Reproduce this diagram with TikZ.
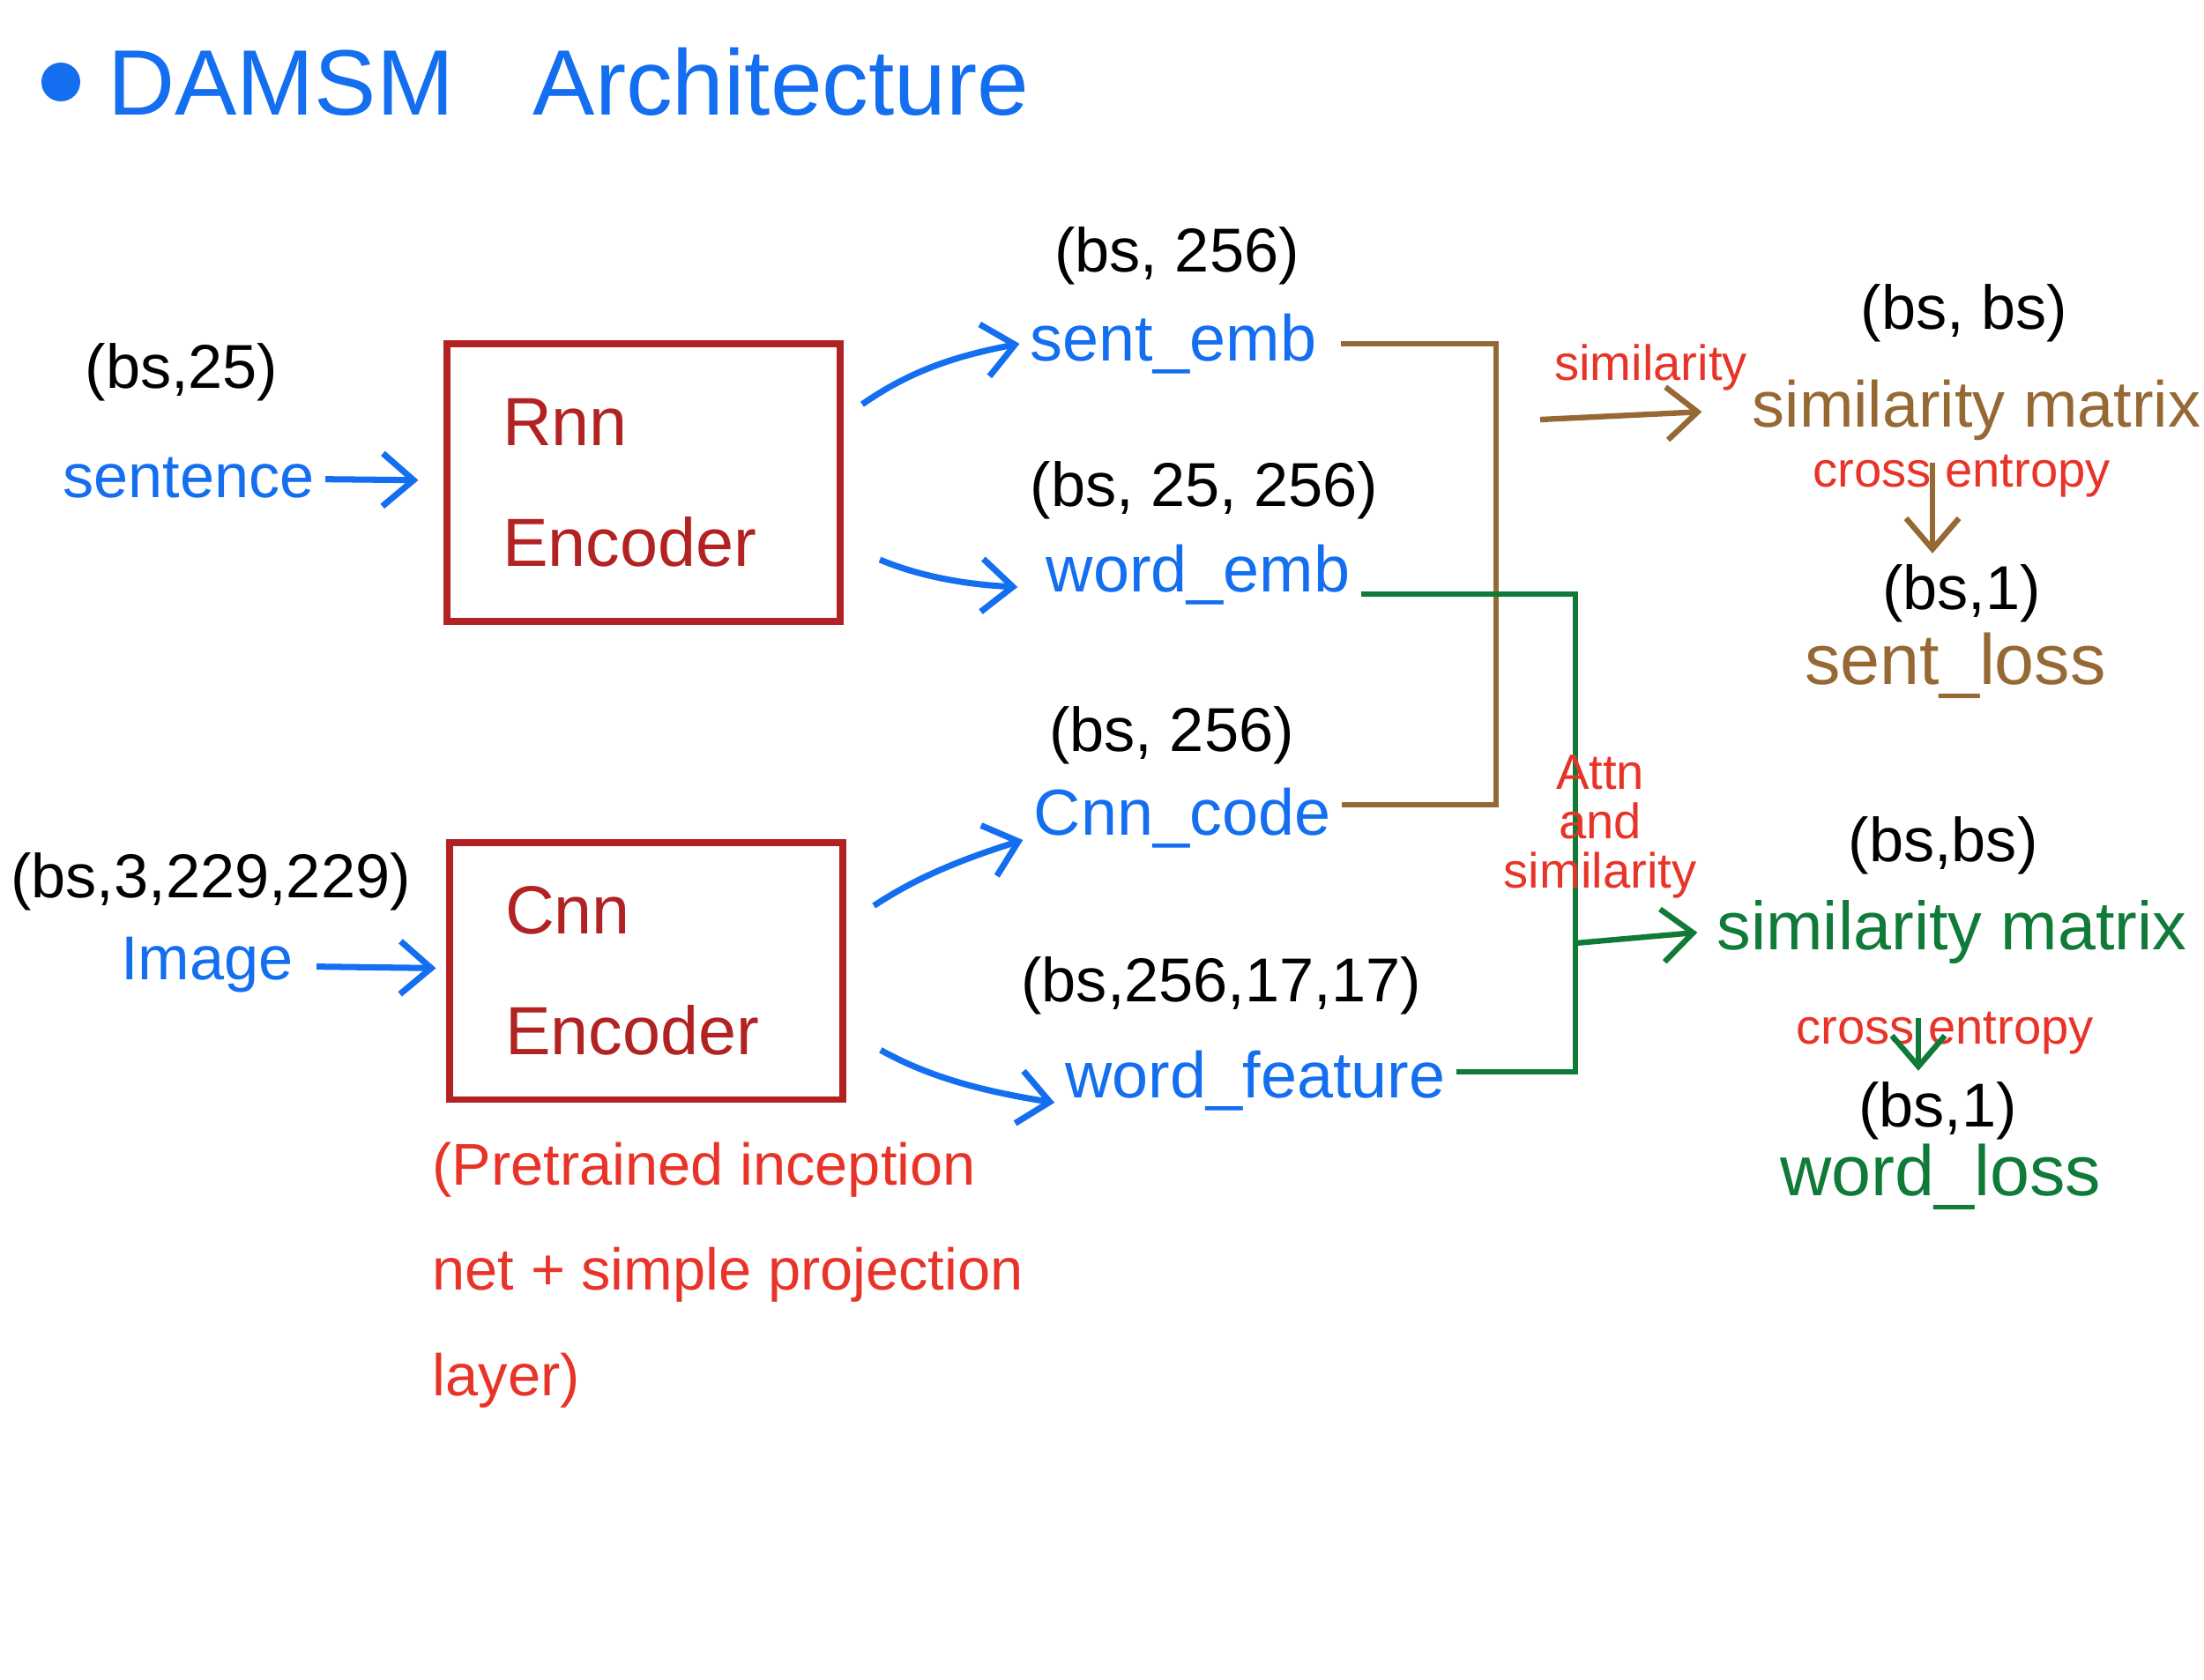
\documentclass[tikz,border=0pt]{standalone}
\usepackage{fontspec}
\setmainfont{Liberation Sans}
\usetikzlibrary{arrows.meta,positioning}
\definecolor{blueink}{RGB}{20,110,240}
\definecolor{boxred}{RGB}{178,34,34}
\definecolor{inkred}{RGB}{232,52,40}
\definecolor{brownink}{RGB}{150,105,52}
\definecolor{greenink}{RGB}{16,122,56}

\begin{document}
\begin{tikzpicture}[
  title/.style={text=blueink, font=\fontsize{30}{36}\selectfont},
  enc/.style={draw=boxred, line width=2pt, text=boxred, align=left, text width=3.2cm, inner xsep=0.63cm, font=\fontsize{22}{39}\selectfont},
  note/.style={text=inkred, align=left, inner sep=0pt, font=\fontsize{19}{34}\selectfont},
  dimlbl/.style={text=black, font=\fontsize{20}{24}\selectfont},
  inlbl/.style={text=blueink, font=\fontsize{20}{24}\selectfont},
  embl/.style={text=blueink, font=\fontsize{21}{25}\selectfont},
  redlbl/.style={text=inkred, align=center, font=\fontsize{16}{16}\selectfont},
  slbl/.style={text=brownink, font=\fontsize{21}{25}\selectfont},
  wlbl/.style={text=greenink, font=\fontsize{22}{26}\selectfont},
  losslbl/.style={font=\fontsize{23}{28}\selectfont},
  barr/.style={-{Straight Barb[length=3.5mm,width=6mm]}, line width=2pt, draw=blueink},
  sline/.style={line width=1.8pt, draw=brownink},
  sarr/.style={sline, -{Straight Barb[length=3.5mm,width=6mm]}},
  wline/.style={line width=1.8pt, draw=greenink},
  warr/.style={wline, -{Straight Barb[length=3.5mm,width=6mm]}}
]
\path[use as bounding box, fill=white] (0,0) rectangle (25,-19.05);

% title
\fill[blueink] (0.69,-0.93) circle (0.22);
\node[title, anchor=west] (title) at (1.1,-0.93) {DAMSM\hspace{0.9cm}Architecture};

% encoders
\node[dimlbl] (sentdim) at (2.06,-4.22) {(bs,25)};
\node[inlbl] (sentence) at (2.14,-5.42) {sentence};
\node[enc, minimum height=3.15cm] (rnn) at (7.30,-5.475) {Rnn\\Encoder};
\draw[barr, shorten >=0.29cm] (sentence) -- (rnn);

\node[dimlbl] (imgdim) at (2.39,-10.0) {(bs,3,229,229)};
\node[inlbl] (image) at (2.35,-10.95) {Image};
\node[enc, minimum height=2.91cm] (cnn) at (7.33,-11.015) {Cnn\\Encoder};
\draw[barr, shorten <=0.14cm, shorten >=0.12cm] (image) -- (cnn);
\node[note, anchor=north west] (cnnnote) at (4.90,-12.95) {(Pretrained inception\\net + simple projection\\layer)};

% embeddings
\node[dimlbl] (sedim) at (13.35,-2.90) {(bs, 256)};
\node[embl] (sentemb) at (13.31,-3.90) {sent\_emb};
\node[dimlbl] (wedim) at (13.66,-5.56) {(bs, 25, 256)};
\node[embl] (wordemb) at (13.59,-6.52) {word\_emb};
\node[dimlbl] (ccdim) at (13.29,-8.34) {(bs, 256)};
\node[embl] (cnncode) at (13.41,-9.28) {Cnn\_code};
\node[dimlbl] (wfdim) at (13.85,-11.18) {(bs,256,17,17)};
\node[embl] (wordfeat) at (14.24,-12.26) {word\_feature};

\draw[barr, shorten <=0.26cm] ([yshift=0.74cm]rnn.east) to[bend left=12] (sentemb.west);
\draw[barr, shorten <=0.45cm, shorten >=0.2cm] ([yshift=-0.7cm]rnn.east) to[bend right=10] ([yshift=-0.15cm]wordemb.west);
\draw[barr, shorten <=0.38cm] ([yshift=0.53cm]cnn.east) to[bend left=8] ([yshift=-0.25cm]cnncode.west);
\draw[barr, shorten <=0.45cm] ([yshift=-0.68cm]cnn.east) to[bend right=10] ([yshift=-0.25cm]wordfeat.west);

% sentence loss
\coordinate (sbar) at (16.97,-6.5);
\draw[sline, shorten <=0.15cm] (sentemb.east) -| (sbar) |- ([yshift=0.15cm]cnncode.east);
\node[dimlbl] (smdim) at (22.28,-3.55) {(bs, bs)};
\node[slbl] (sim1) at (22.42,-4.65) {similarity matrix};
\node[redlbl] (ce1) at (22.25,-5.40) {cross entropy};
\node[dimlbl] (sldim) at (22.25,-6.73) {(bs,1)};
\node[slbl, losslbl] (sloss) at (22.18,-7.55) {sent\_loss};
\coordinate (sfrom) at (17.47,-4.76);
\draw[sarr, shorten >=0.45cm] (sfrom) -- node[redlbl, above=0.12cm, pos=0.55] (simlbl) {similarity} (sim1.west);
\coordinate (sdown) at (21.92,-5.25);
\draw[sarr] (sdown) -- (sdown |- sldim.north);

% word loss
\coordinate (wbar) at (17.87,-9.4);
\draw[wline] ([yshift=-0.22cm]wordemb.east) -| (wbar) |- ([yshift=0.1cm]wordfeat.east);
\node[redlbl] (attnlbl) at (18.15,-9.38) {Attn\\and\\similarity};
\node[dimlbl] (wmdim) at (22.04,-9.59) {(bs,bs)};
\node[wlbl] (sim2) at (22.14,-10.57) {similarity matrix};
\node[redlbl] (ce2) at (22.06,-11.72) {cross entropy};
\node[dimlbl] (wldim) at (21.98,-12.60) {(bs,1)};
\node[wlbl, losslbl] (wloss) at (22.01,-13.35) {word\_loss};
\coordinate (wfrom) at (17.87,-10.70);
\draw[warr, shorten >=0.1cm] (wfrom) -- (sim2.west);
\coordinate (wdown) at (21.76,-11.55);
\draw[warr] (wdown) -- (wdown |- wldim.north);
\end{tikzpicture}
\end{document}
